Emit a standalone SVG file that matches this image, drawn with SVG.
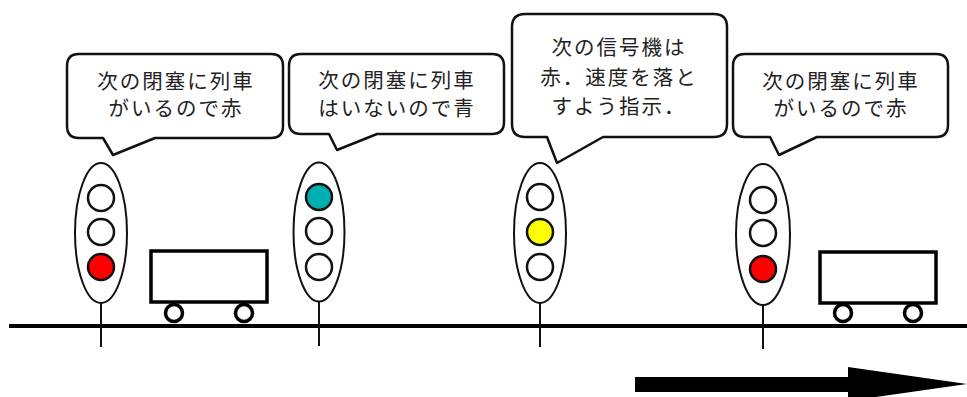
<svg xmlns="http://www.w3.org/2000/svg" width="967" height="397" viewBox="0 0 967 397">
  <style>
    .bubble { fill: #ffffff; stroke: #111111; stroke-width: 2.5; stroke-linejoin: round; }
    .label { font-family: "Noto Sans CJK JP", "Noto Sans CJK SC", sans-serif; font-size: 20.5px; letter-spacing: 2px; fill: #222222; text-anchor: middle; }
    .body { fill: #ffffff; stroke: #111111; stroke-width: 2; }
    .lamp { stroke: #111111; stroke-width: 2.5; }
    .pole { stroke: #111111; stroke-width: 2; }
    .cart { fill: #ffffff; stroke: #000000; stroke-width: 3.5; }
    .wheel { fill: #ffffff; stroke: #000000; stroke-width: 3.5; }
    .off { fill: #ffffff; }
    .red { fill: #ff0000; }
    .green { fill: #00b0b0; }
    .yellow { fill: #ffff00; }
  </style>

  <!-- track -->
  <g id="track">
    <line x1="9" y1="326" x2="967" y2="326" stroke="#000000" stroke-width="4"/>
  </g>

  <!-- signal 1: stop (red) -->
  <g id="signal1">
    <line class="pole" x1="101" y1="303" x2="101" y2="347"/>
    <ellipse class="body" cx="101" cy="233" rx="26" ry="70"/>
    <circle class="lamp off" cx="101" cy="198" r="13"/>
    <circle class="lamp off" cx="101" cy="232" r="13"/>
    <circle class="lamp red" cx="101" cy="267" r="13"/>
  </g>

  <!-- signal 2: proceed (green) -->
  <g id="signal2">
    <line class="pole" x1="319" y1="301" x2="319" y2="346"/>
    <ellipse class="body" cx="319" cy="232" rx="25.5" ry="69.5"/>
    <circle class="lamp green" cx="319" cy="197" r="13"/>
    <circle class="lamp off" cx="319" cy="231" r="13"/>
    <circle class="lamp off" cx="319" cy="267" r="13"/>
  </g>

  <!-- signal 3: caution (yellow) -->
  <g id="signal3">
    <line class="pole" x1="540" y1="303" x2="540" y2="347"/>
    <ellipse class="body" cx="540" cy="233" rx="26" ry="70"/>
    <circle class="lamp off" cx="540" cy="197" r="13"/>
    <circle class="lamp yellow" cx="540" cy="232" r="13"/>
    <circle class="lamp off" cx="540" cy="267" r="13"/>
  </g>

  <!-- signal 4: stop (red) -->
  <g id="signal4">
    <line class="pole" x1="763" y1="305" x2="763" y2="349"/>
    <ellipse class="body" cx="763" cy="234.5" rx="27" ry="70.5"/>
    <circle class="lamp off" cx="763" cy="200" r="13"/>
    <circle class="lamp off" cx="763" cy="233" r="13"/>
    <circle class="lamp red" cx="763" cy="269" r="13"/>
  </g>

  <!-- train cars -->
  <g id="car1">
    <rect class="cart" x="151" y="251" width="116" height="51"/>
    <circle class="wheel" cx="174" cy="313" r="8.5"/>
    <circle class="wheel" cx="244" cy="313" r="8.5"/>
  </g>
  <g id="car2">
    <rect class="cart" x="820" y="252" width="116" height="51"/>
    <circle class="wheel" cx="843" cy="313" r="8.5"/>
    <circle class="wheel" cx="913" cy="313" r="8.5"/>
  </g>

  <!-- speech bubbles -->
  <g id="bubble1">
    <path class="bubble" d="M79,54 H271 Q283,54 283,66 V126 Q283,138 271,138 H155 L113,155 L103,138 H79 Q67,138 67,126 V66 Q67,54 79,54 Z"/>
    <text class="label" x="176" y="88.5">次の閉塞に列車</text>
    <text class="label" x="176" y="116">がいるので赤</text>
  </g>
  <g id="bubble2">
    <path class="bubble" d="M301,54 H492 Q504,54 504,66 V122 Q504,134 492,134 H377 L337,150 L329,134 H301 Q289,134 289,122 V66 Q289,54 301,54 Z"/>
    <text class="label" x="397" y="88">次の閉塞に列車</text>
    <text class="label" x="397" y="116">はいないので青</text>
  </g>
  <g id="bubble3">
    <path class="bubble" d="M525,14 H714 Q727,14 727,27 V124 Q727,137 714,137 H603 L557,163 L547,137 H525 Q512,137 512,124 V27 Q512,14 525,14 Z"/>
    <text class="label" x="619" y="55">次の信号機は</text>
    <text class="label" x="619" y="85">赤．速度を落と</text>
    <text class="label" x="619" y="114">すよう指示．</text>
  </g>
  <g id="bubble4">
    <path class="bubble" d="M745,54 H936 Q948,54 948,66 V125 Q948,137 936,137 H817 L779,155 L770,137 H745 Q733,137 733,125 V66 Q733,54 745,54 Z"/>
    <text class="label" x="841" y="88.5">次の閉塞に列車</text>
    <text class="label" x="841" y="116">がいるので赤</text>
  </g>

  <!-- direction of travel -->
  <g id="connectors">
    <path d="M635,377 H848 V367 L967,384 L848,401 V392 H635 Z" fill="#000000"/>
  </g>
</svg>
